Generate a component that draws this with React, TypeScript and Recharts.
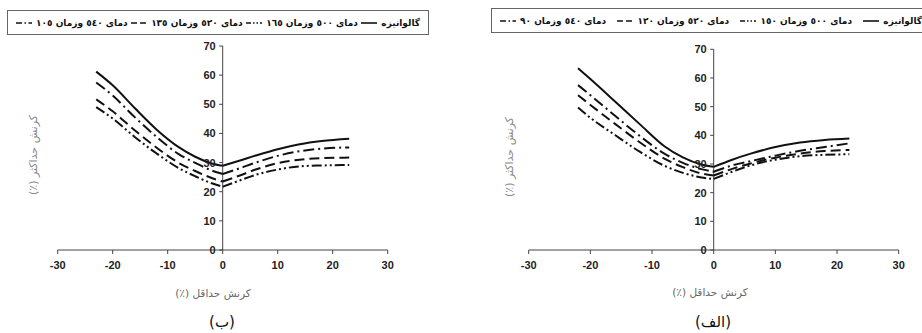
import { LineChart, Line, XAxis, YAxis, ReferenceLine } from 'recharts'

// strain values on the minimum-strain axis, per panel
const strainB = [-23, -20, -16, -12, -8, -5, -2, 0, 3, 6, 10, 14, 18, 23]
const strainA = [-22, -20, -16, -12, -8, -5, -2, 0, 3, 6, 10, 14, 18, 22]

// panel (ب)
const galvB = [61.2, 56.5, 48.7, 41.3, 35.3, 32.0, 29.7, 28.9, 30.6, 32.4, 34.6, 36.3, 37.4, 38.2]
const t500B = [49.0, 45.1, 38.8, 33.1, 28.1, 25.3, 22.9, 21.7, 23.8, 25.8, 27.6, 28.7, 29.0, 29.2]
const t520B = [51.7, 47.6, 41.1, 35.1, 29.9, 27.1, 24.7, 23.5, 25.5, 27.6, 29.8, 31.0, 31.5, 31.7]
const t540B = [57.5, 53.0, 45.6, 38.8, 32.9, 29.9, 27.3, 26.1, 28.0, 30.0, 32.3, 33.9, 34.8, 35.2]

// panel (الف)
const galvA = [63.4, 59.6, 51.8, 43.9, 36.2, 32.3, 29.8, 29.0, 31.5, 33.6, 35.9, 37.5, 38.4, 38.9]
const t500A = [49.7, 46.1, 40.1, 34.3, 29.4, 26.9, 25.3, 24.8, 27.3, 29.5, 31.5, 32.7, 33.2, 33.4]
const t520A = [54.0, 50.6, 44.0, 37.6, 31.9, 28.9, 26.7, 26.0, 28.3, 30.2, 32.2, 33.6, 34.5, 34.9]
const t540A = [57.5, 54.0, 46.8, 39.8, 33.6, 30.4, 28.2, 27.3, 29.5, 31.0, 32.9, 34.6, 35.9, 37.2]

const namesB = ['گالوانیزه', 'دمای ٥٠٠ وزمان ١٦٥', 'دمای ٥٢٠ وزمان ١٣٥', 'دمای ٥٤٠ وزمان ١٠٥']
const namesA = ['گالوانیزه', 'دمای ٥٠٠ وزمان ١٥٠', 'دمای ٥٢٠ وزمان ١٢٠', 'دمای ٥٤٠ وزمان ٩٠']

const xTicks = [-30, -20, -10, 0, 10, 20, 30]
const yTicks = [0, 10, 20, 30, 40, 50, 60, 70]

const dashes = ['', '10 3 2 3 2 3', '10 5', '11 4 2 4']
const legendDashes = ['', '5 2 1.5 2 1.5 2', '6 3', '6 2.5 1.5 2.5']

const tickFont = { fontFamily: 'Liberation Sans, Arial, sans-serif', fontSize: 11, fontWeight: 700, fill: '#222' }
const faFont = 'DejaVu Sans, sans-serif'

type Pt = { x: number; y: number }

function branch(xs: number[], ys: number[], side: 'neg' | 'pos'): Pt[] {
  const pts = xs.map((x, i) => ({ x, y: ys[i] }))
  return side === 'neg' ? pts.filter(p => p.x <= 0) : pts.filter(p => p.x >= 0)
}

function YTick({ y, payload, zeroX }: any) {
  return (
    <g>
      <line x1={zeroX - 3.5} x2={zeroX} y1={y} y2={y} stroke="#444" strokeWidth={1} />
      <text x={zeroX - 7} y={y} dy={4} textAnchor="end" {...tickFont}>{payload.value}</text>
    </g>
  )
}

interface PanelProps {
  left: number
  width: number
  margin: { top: number; right: number; bottom: number; left: number }
  strain: number[]
  series: number[][]
}

function Panel({ left, width, margin, strain, series }: PanelProps) {
  const plotW = width - margin.left - margin.right
  const zeroX = margin.left + plotW / 2
  return (
    <div style={{ position: 'absolute', left, top: 0 }}>
      <LineChart width={width} height={333} margin={{ ...margin, left: margin.left - 10 }}>
        <XAxis
          dataKey="x"
          type="number"
          domain={[-30, 30]}
          ticks={xTicks}
          height={20}
          tickSize={4}
          tickMargin={7}
          stroke="#444"
          tick={tickFont}
          allowDataOverflow
        />
        <YAxis
          type="number"
          domain={[0, 70]}
          ticks={yTicks}
          width={10}
          axisLine={false}
          tickLine={false}
          tick={(props: any) => <YTick {...props} zeroX={zeroX} />}
        />
        <ReferenceLine x={0} stroke="#444" strokeWidth={1} />
        {series.map((ys, i) =>
          (['neg', 'pos'] as const).map(side => (
            <Line
              key={`${i}-${side}`}
              data={branch(strain, ys, side)}
              dataKey="y"
              type="monotone"
              stroke="#111"
              strokeWidth={2}
              strokeDasharray={dashes[i] || undefined}
              dot={false}
              activeDot={false}
              isAnimationActive={false}
            />
          ))
        )}
      </LineChart>
    </div>
  )
}

function LegendBox({ left, top, width, names }: { left: number; top: number; width: number; names: string[] }) {
  return (
    <div
      style={{
        position: 'absolute',
        left,
        top,
        width,
        height: 25,
        boxSizing: 'border-box',
        border: '1px solid #666',
        display: 'flex',
        flexDirection: 'row',
        direction: 'rtl',
        alignItems: 'center',
        justifyContent: 'space-between',
        padding: '0 8px',
        fontFamily: faFont,
        fontSize: 9,
        fontWeight: 700,
        color: '#111',
        whiteSpace: 'nowrap',
      }}
    >
      {names.map((name, i) => (
        <div key={name} style={{ display: 'flex', alignItems: 'center', gap: 4 }}>
          <span>{name}</span>
          <svg width={16} height={6}>
            <line x1={0} x2={16} y1={3} y2={3} stroke="#111" strokeWidth={1.6} strokeDasharray={legendDashes[i] || undefined} />
          </svg>
        </div>
      ))}
    </div>
  )
}

function Caption({ cx, cy, text, size, color, rotate }: { cx: number; cy: number; text: string; size: number; color: string; rotate?: boolean }) {
  return (
    <div
      style={{
        position: 'absolute',
        left: cx,
        top: cy,
        transform: `translate(-50%, -50%)${rotate ? ' rotate(-90deg)' : ''}`,
        whiteSpace: 'nowrap',
        direction: 'rtl',
        fontFamily: faFont,
        fontSize: size,
        color,
        lineHeight: 1,
      }}
    >
      {text}
    </div>
  )
}

export default function App() {
  return (
    <div style={{ position: 'absolute', left: 0, top: 0, width: 922, height: 333, overflow: 'hidden', background: '#fff' }}>
      <Panel
        left={0}
        width={460}
        margin={{ top: 46, right: 72.3, bottom: 63, left: 57.7 }}
        strain={strainB}
        series={[galvB, t500B, t520B, t540B]}
      />
      <Panel
        left={462}
        width={460}
        margin={{ top: 49.3, right: 23.3, bottom: 63, left: 66.7 }}
        strain={strainA}
        series={[galvA, t500A, t520A, t540A]}
      />
      <LegendBox left={7} top={10} width={422} names={namesB} />
      <LegendBox left={491} top={8} width={440} names={namesA} />

      <Caption cx={33} cy={155} text="کرنش حداکثر (٪)" size={11} color="#888" rotate />
      <Caption cx={509} cy={157} text="کرنش حداکثر (٪)" size={11} color="#888" rotate />
      <Caption cx={213} cy={293} text="کرنش حداقل (٪)" size={10.5} color="#666" />
      <Caption cx={710} cy={292} text="کرنش حداقل (٪)" size={10.5} color="#666" />
      <Caption cx={222} cy={322} text="(ب)" size={15} color="#111" />
      <Caption cx={713} cy={322} text="(الف)" size={15} color="#111" />
    </div>
  )
}
